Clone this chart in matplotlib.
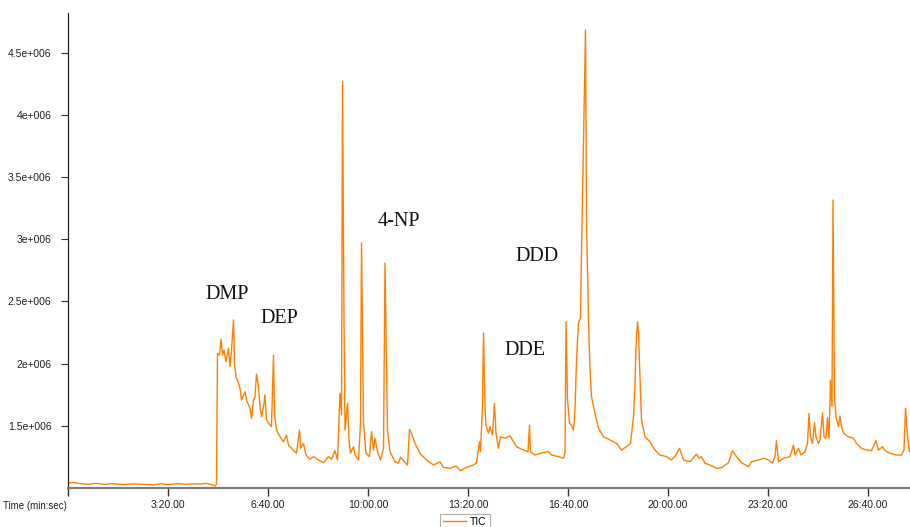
import matplotlib
matplotlib.use("Agg")
import matplotlib.pyplot as plt
from matplotlib.lines import Line2D

# time in seconds, TIC intensity in units of 1e6 counts
time_s = [0, 12, 24, 40, 56, 72, 90, 110, 130, 150, 170, 186, 200, 220, 236, 250, 264, 277, 288, 294, 297,
          299, 303, 306, 309, 312, 316, 321, 324, 327, 331, 333, 336, 341, 344, 347, 354, 357, 364, 367, 371,
          374, 377, 381, 384, 387, 391, 394, 397, 404, 407, 411, 413, 417, 424, 431, 437, 441, 447, 457, 463,
          465, 471, 476, 484, 491, 501, 511, 521, 527, 534, 539, 544, 547, 549, 552, 554, 559, 562, 565, 571,
          574, 581, 585, 587, 591, 596, 603, 607, 611, 614, 619, 625, 631, 634, 639, 644, 654, 661, 665, 671,
          679, 683, 687, 694, 704, 717, 731, 744, 751, 764, 776, 785, 797, 811, 817, 823, 825, 829, 831, 834,
          836, 841, 844, 849, 853, 856, 861, 865, 874, 884, 891, 897, 911, 920, 923, 925, 934, 944, 961, 967,
          981, 991, 994, 996, 999, 1003, 1007, 1011, 1014, 1017, 1021, 1025, 1027, 1031, 1035, 1037, 1041,
          1044, 1047, 1054, 1061, 1071, 1084, 1097, 1107, 1117, 1125, 1131, 1134, 1136, 1139, 1141, 1143,
          1147, 1154, 1164, 1174, 1184, 1197, 1207, 1216, 1223, 1231, 1244, 1257, 1262, 1267, 1274, 1284,
          1297, 1307, 1321, 1329, 1337, 1347, 1361, 1367, 1381, 1391, 1401, 1409, 1414, 1417, 1421, 1431,
          1444, 1451, 1454, 1461, 1466, 1474, 1479, 1482, 1485, 1489, 1493, 1496, 1501, 1504, 1509, 1512,
          1516, 1519, 1522, 1525, 1528, 1530, 1533, 1536, 1541, 1544, 1547, 1551, 1561, 1571, 1577, 1587,
          1597, 1607, 1616, 1621, 1629, 1634, 1644, 1657, 1667, 1672, 1675, 1679, 1683]

tic_e6 = [1.040, 1.045, 1.035, 1.030, 1.038, 1.030, 1.035, 1.028, 1.033, 1.030, 1.025, 1.035, 1.028, 1.035,
          1.030, 1.033, 1.032, 1.038, 1.025, 1.016, 1.030,
          2.083, 2.069, 2.195, 2.069, 2.109, 2.015, 2.123, 1.975, 2.109, 2.351, 2.002, 1.895, 1.842, 1.801,
          1.707, 1.774, 1.707, 1.641, 1.560, 1.707, 1.734, 1.916, 1.814, 1.654, 1.573, 1.654, 1.748, 1.547,
          1.506, 1.493, 2.069, 1.600, 1.466, 1.412, 1.372, 1.426, 1.346, 1.319, 1.279, 1.466, 1.319, 1.359,
          1.265, 1.231, 1.252, 1.225, 1.203, 1.252, 1.231, 1.300, 1.225, 1.761, 1.587, 4.264, 2.350, 1.466,
          1.681, 1.386, 1.279, 1.332, 1.265, 1.225, 1.520, 2.970, 1.520, 1.279, 1.252, 1.453, 1.305, 1.400,
          1.292, 1.225, 1.319, 2.809, 1.466, 1.292, 1.211, 1.199, 1.247, 1.219, 1.185, 1.472, 1.440, 1.359,
          1.279, 1.225, 1.185, 1.211, 1.166, 1.158, 1.177, 1.139, 1.166, 1.185, 1.203, 1.372, 1.292, 1.654,
          2.246, 1.654, 1.506, 1.440, 1.493, 1.426, 1.681, 1.440, 1.319, 1.412, 1.400, 1.418, 1.372, 1.332,
          1.305, 1.292, 1.506, 1.292, 1.265, 1.279, 1.292, 1.265, 1.252, 1.239, 1.279, 2.337, 1.707, 1.520,
          1.506, 1.466, 1.627, 2.029, 2.324, 2.367, 2.889, 3.773, 4.682, 3.154, 2.351, 1.950, 1.734, 1.600,
          1.480, 1.412, 1.386, 1.359, 1.305, 1.332, 1.359, 1.573, 1.842, 2.136, 2.337, 2.250, 2.002, 1.547,
          1.412, 1.372, 1.305, 1.265, 1.252, 1.225, 1.265, 1.319, 1.225, 1.211, 1.273, 1.240, 1.252, 1.199,
          1.185, 1.158, 1.163, 1.203, 1.300, 1.252, 1.203, 1.171, 1.211, 1.225, 1.239, 1.225, 1.199, 1.252,
          1.380, 1.211, 1.239, 1.252, 1.346, 1.265, 1.319, 1.265, 1.292, 1.359, 1.600, 1.412, 1.359, 1.525,
          1.412, 1.359, 1.386, 1.605, 1.412, 1.400, 1.565, 1.400, 1.868, 1.654, 3.315, 1.734, 1.573, 1.493,
          1.579, 1.493, 1.440, 1.412, 1.400, 1.359, 1.319, 1.305, 1.300, 1.380, 1.305, 1.332, 1.300, 1.279,
          1.265, 1.265, 1.305, 1.641, 1.412, 1.292]

x_ticks = [0, 200, 400, 600, 800, 1000, 1200, 1400, 1600]
x_tick_labels = ["", "3:20.00", "6:40.00", "10:00.00", "13:20.00", "16:40.00", "20:00.00", "23:20.00", "26:40.00"]
y_ticks = [1.5, 2.0, 2.5, 3.0, 3.5, 4.0, 4.5]
y_tick_labels = ["1.5e+006", "2e+006", "2.5e+006", "3e+006", "3.5e+006", "4e+006", "4.5e+006"]

peak_labels = ["DMP", "DEP", "4-NP", "DDD", "DDE"]
peak_label_t = [319, 423, 661, 937, 914]
peak_label_y = [2.556, 2.360, 3.145, 2.859, 2.109]

W, H = 910, 527
fig = plt.figure(figsize=(W / 100, H / 100), dpi=100)
ax = fig.add_axes([68 / W, 1 - 488 / H, 1 - 68 / W, (488 - 13) / H])

line_color = "#FF8000"
ax.plot(time_s, tic_e6, color=line_color, lw=1.0, solid_joinstyle="round")

ax.set_xlim(0, 1684)
ax.set_ylim(1.0, 4.818)

for s in ["top", "right"]:
    ax.spines[s].set_visible(False)
ax.spines["left"].set_color("#202020")
ax.spines["left"].set_linewidth(0.9)
ax.spines["bottom"].set_color("#7a7a7a")
ax.spines["bottom"].set_linewidth(1.5)

tick_font = dict(family="Liberation Sans", size=7.5)
ax.set_xticks(x_ticks)
ax.set_xticklabels(x_tick_labels, **tick_font, color="#202020")
ax.set_yticks(y_ticks)
ax.set_yticklabels(y_tick_labels, **tick_font, color="#202020")
ax.tick_params(axis="x", direction="out", length=6, width=1.0, color="#303030", pad=3)
ax.tick_params(axis="y", direction="out", length=5, width=0.8, color="#303030", pad=7)

fig.text(3 / W, 1 - 506 / H, "Time (min:sec)", ha="left", va="center",
         family="Liberation Sans", size=7, color="#202020")

for lab, t, y in zip(peak_labels, peak_label_t, peak_label_y):
    ax.text(t, y, lab, ha="center", va="center", family="Liberation Serif", size=14.5, color="#111111")

handle = Line2D([0], [0], color=line_color, lw=1.0)
leg = fig.legend([handle], ["TIC"], loc="upper left", bbox_to_anchor=(440 / W, 1 - 514 / H),
                 bbox_transform=fig.transFigure, frameon=True, fancybox=False,
                 prop=dict(family="Liberation Sans", size=7.5), handlelength=2.2,
                 borderpad=0.3, handletextpad=0.4, borderaxespad=0)
leg.get_frame().set_edgecolor("#9a9a9a")
leg.get_frame().set_linewidth(0.8)

fig.savefig("out.png", dpi=100)
